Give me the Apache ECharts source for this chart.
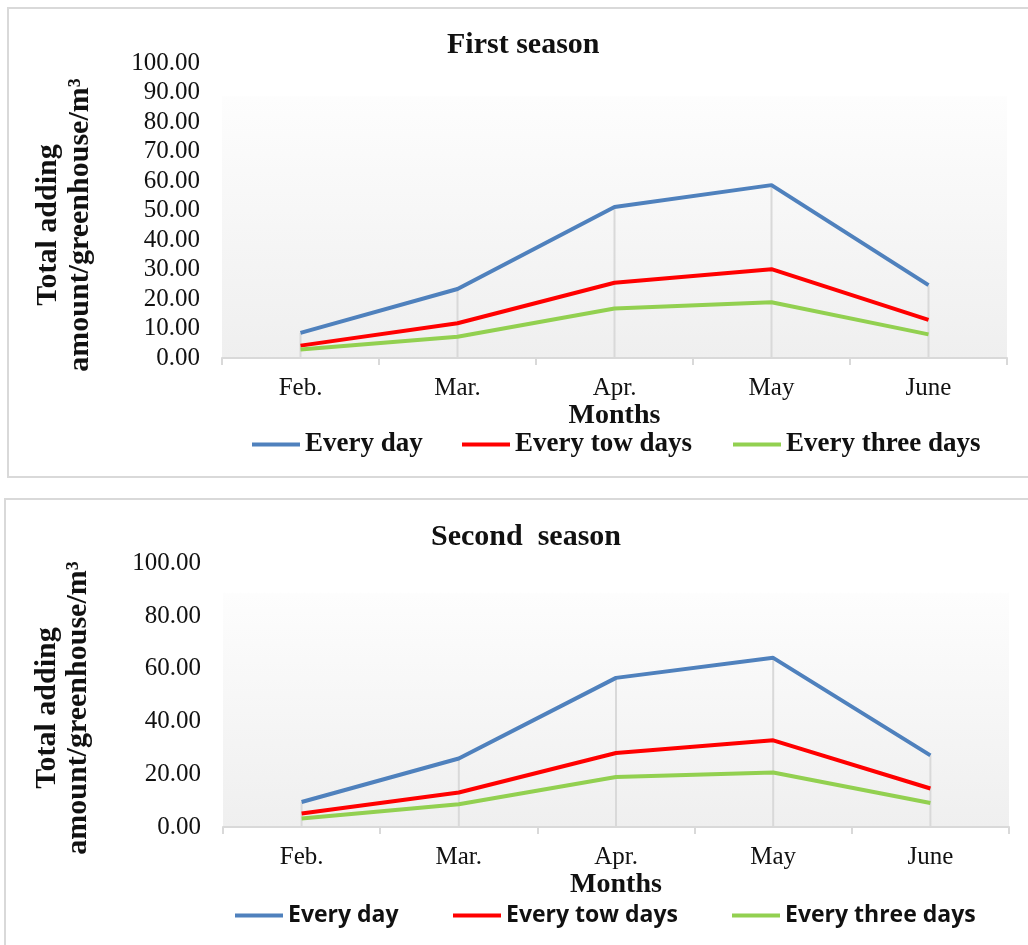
<!DOCTYPE html>
<html>
<head>
<meta charset="utf-8">
<script src="https://cdn.jsdelivr.net/npm/echarts@6/dist/echarts.min.js"></script>
<style>
html,body{margin:0;padding:0;background:#fff;}
#chart{width:1028px;height:945px;}
</style>
</head>
<body>
<div id="chart"></div>
<script>
// ---- data ----
const months = ['Feb.', 'Mar.', 'Apr.', 'May', 'June'];
const seriesNames = ['Every day', 'Every tow days', 'Every three days'];
const s1EveryDay   = [8.5, 23.4, 51.2, 58.6, 24.7];
const s1EveryTwo   = [4.2, 11.8, 25.5, 30.1, 12.9];
const s1EveryThree = [2.9, 7.2, 16.8, 18.9, 8.0];
const s2EveryDay   = [9.5, 26.0, 56.6, 64.2, 27.2];
const s2EveryTwo   = [5.1, 13.1, 28.1, 32.9, 14.6];
const s2EveryThree = [3.2, 8.6, 19.0, 20.7, 9.1];
const titles = ['First season', 'Second  season'];
const xTitle = 'Months';
const yTitle = 'Total adding\namount/greenhouse/m\u00B3';
const yMax = [100, 100];
const yStep = [10, 20];

// ---- styles ----
const colors = ['#4f81bd', '#ff0000', '#92d050'];
const serif = 'Liberation Serif';
const sans = 'Open Sans';
const gridCol = '#d9d9d9';

const chart = echarts.init(document.getElementById('chart'));

function dropLine(a, b, c) { return a.map((v, i) => Math.max(v, b[i], c[i])); }

const grids = [
  { left: 222, top: 63, width: 785, height: 295 },
  { left: 223, top: 563.5, width: 786, height: 263.5 }
];
grids.forEach(g => {
  g.show = true;
  g.borderWidth = 0;
  g.backgroundColor = {
    type: 'linear', x: 0, y: 0, x2: 0, y2: 1,
    colorStops: [
      { offset: 0, color: '#ffffff' },
      { offset: 0.11, color: '#ffffff' },
      { offset: 0.115, color: '#fdfdfd' },
      { offset: 1, color: '#efefef' }
    ]
  };
});

function xAxis(gi, nameGap) {
  return {
    type: 'category', gridIndex: gi, data: months, boundaryGap: true,
    axisLine: { show: true, lineStyle: { color: gridCol, width: 2 } },
    axisTick: { show: true, length: 7, lineStyle: { color: gridCol, width: 2 } },
    axisLabel: { margin: 18, fontFamily: serif, fontSize: 25, color: '#111' },
    splitLine: { show: false },
    name: xTitle, nameLocation: 'middle', nameGap: nameGap,
    nameTextStyle: { fontFamily: serif, fontSize: 28, fontWeight: 'bold', color: '#111' }
  };
}
function yAxis(gi) {
  return {
    type: 'value', gridIndex: gi, min: 0, max: yMax[gi], interval: yStep[gi],
    axisLine: { show: false }, axisTick: { show: false }, splitLine: { show: false },
    axisLabel: { margin: 22, fontFamily: serif, fontSize: 25, color: '#111',
      formatter: v => v.toFixed(2) }
  };
}

const sets = [
  [s1EveryDay, s1EveryTwo, s1EveryThree],
  [s2EveryDay, s2EveryTwo, s2EveryThree]
];
const series = [];
sets.forEach((set, gi) => {
  series.push({
    type: 'bar', name: 'drop' + gi, xAxisIndex: gi, yAxisIndex: gi,
    data: dropLine(set[0], set[1], set[2]), barWidth: 2,
    itemStyle: { color: gridCol }, silent: true, z: 1
  });
  set.forEach((d, k) => {
    series.push({
      type: 'line', name: seriesNames[k], xAxisIndex: gi, yAxisIndex: gi, data: d,
      showSymbol: false, symbol: 'none',
      lineStyle: { color: colors[k], width: 4 }, itemStyle: { color: colors[k] }, z: 3
    });
  });
});

const legendPos = [
  { lefts: [252, 462, 733], top: 431, font: serif, size: 27 },
  { lefts: [235, 453, 732], top: 904, font: sans, size: 23 }
];
const legends = [];
legendPos.forEach(lp => {
  seriesNames.forEach((n, k) => {
    legends.push({
      data: [n], left: lp.lefts[k], top: lp.top, padding: 0,
      icon: 'rect', itemWidth: 48, itemHeight: 4,
      selectedMode: false,
      textStyle: { fontFamily: lp.font, fontSize: lp.size, fontWeight: 'bold', color: '#111', padding: [0, 0, 0, 0] }
    });
  });
});

const option = {
  animation: false,
  backgroundColor: '#ffffff',
  title: [
    { text: titles[0], left: 447, top: 30, padding: 0,
      textStyle: { fontFamily: serif, fontSize: 30, fontWeight: 'bold', color: '#111' } },
    { text: titles[1], left: 431, top: 522, padding: 0,
      textStyle: { fontFamily: serif, fontSize: 30, fontWeight: 'bold', color: '#111' } }
  ],
  grid: grids,
  xAxis: [xAxis(0, 41), xAxis(1, 44)],
  yAxis: [yAxis(0), yAxis(1)],
  legend: legends,
  series: series,
  graphic: [
    { type: 'rect', shape: { x: 8, y: 8, width: 1100, height: 469 }, silent: true, z: -10,
      style: { fill: 'none', stroke: '#d9d9d9', lineWidth: 2 } },
    { type: 'rect', shape: { x: 5, y: 499, width: 1100, height: 500 }, silent: true, z: -10,
      style: { fill: 'none', stroke: '#d9d9d9', lineWidth: 2 } },
    { type: 'text', x: 64, y: 225, rotation: Math.PI / 2, silent: true,
      style: { text: yTitle, fontFamily: serif, fontSize: 30, fontWeight: 'bold', fill: '#111',
        align: 'center', verticalAlign: 'middle', lineHeight: 32 } },
    { type: 'text', x: 63, y: 708, rotation: Math.PI / 2, silent: true,
      style: { text: yTitle, fontFamily: serif, fontSize: 30, fontWeight: 'bold', fill: '#111',
        align: 'center', verticalAlign: 'middle', lineHeight: 31 } }
  ]
};
chart.setOption(option);
</script>
</body>
</html>
